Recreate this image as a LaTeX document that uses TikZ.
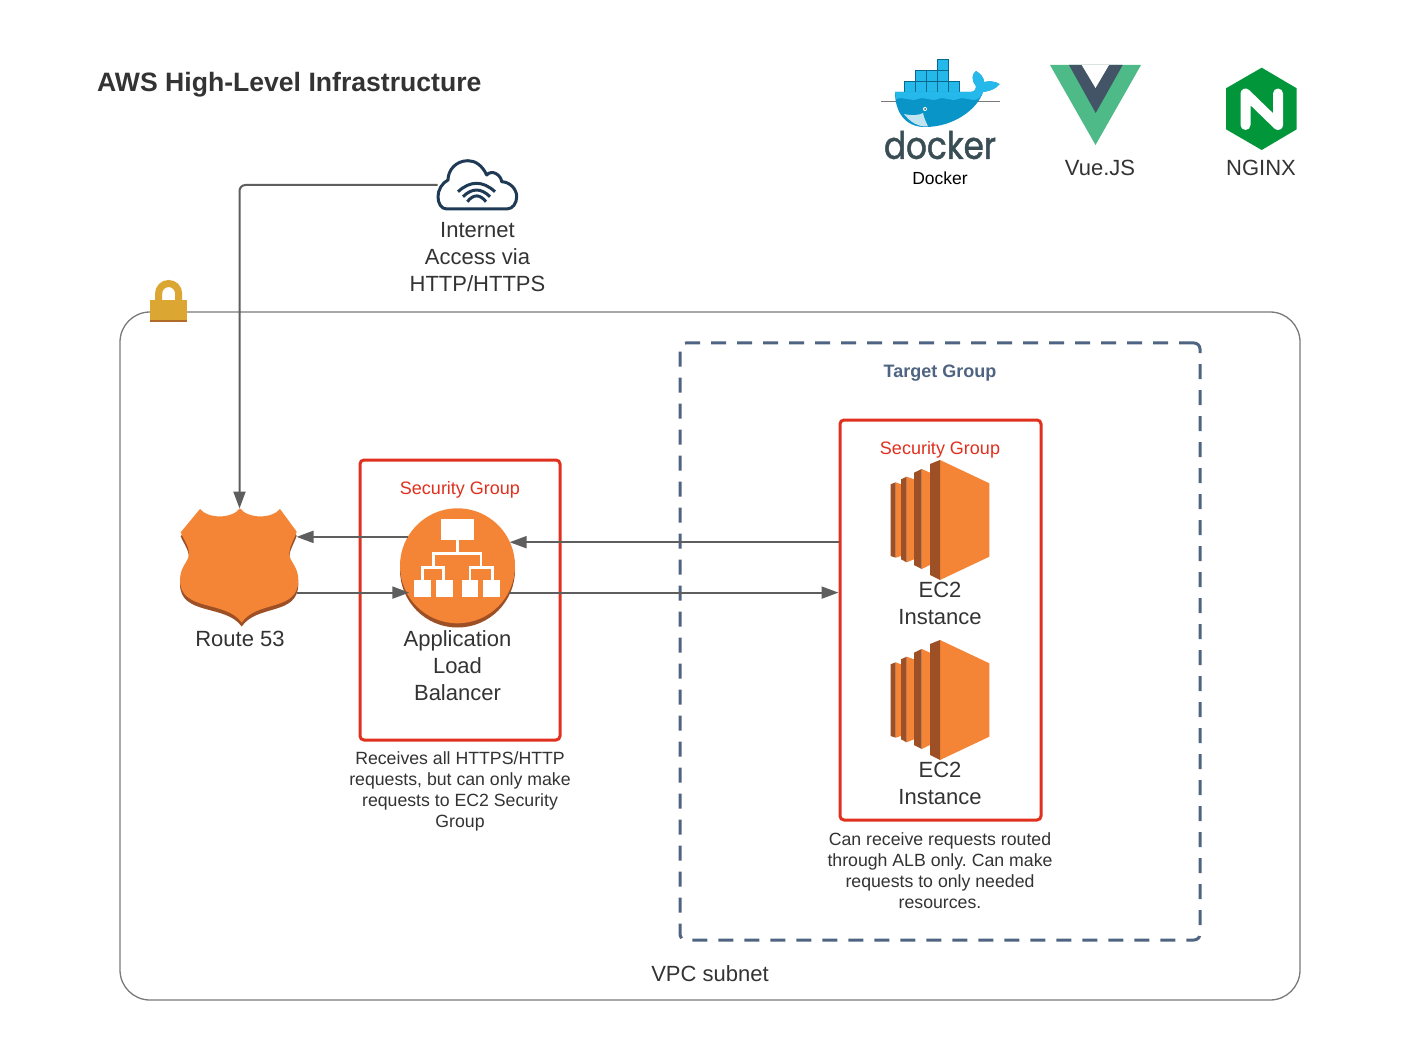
\documentclass[tikz,border=0pt]{standalone}
\usepackage{fontspec}
\setmainfont{Liberation Sans}
\newfontfamily\logofont[FakeStretch=0.86,FakeBold=1.2]{Poppins}
\usetikzlibrary{calc,arrows.meta}
\definecolor{aws-text}{HTML}{333333}
\definecolor{aws-link}{HTML}{5E5E5E}
\definecolor{aws-line}{HTML}{7A7A7A}
\definecolor{aws-red}{HTML}{E0301E}
\definecolor{aws-slate}{HTML}{4F6482}
\definecolor{aws-orange}{HTML}{F58536}
\definecolor{aws-dark}{HTML}{9D5025}
\definecolor{aws-gold}{HTML}{DBA632}
\definecolor{cloud-navy}{HTML}{1F3A55}
\definecolor{docker-top}{HTML}{24B8EB}
\definecolor{docker-low}{HTML}{0A95C9}
\definecolor{docker-text}{HTML}{394D54}
\definecolor{vue-green}{HTML}{4DBA87}
\definecolor{vue-dark}{HTML}{435466}
\definecolor{nginx-green}{HTML}{009639}
\tikzset{
    bigtext/.style={font=\fontsize{22}{27}\selectfont, text=aws-text, align=center},
    smalltext/.style={font=\frenchspacing\fontsize{17.7}{21}\selectfont, text=aws-text, align=center},
    sgtext/.style={font=\fontsize{18}{21}\selectfont, text=aws-red},
    sgbox/.style={draw=aws-red, line width=3pt, rounded corners=4pt, inner sep=0pt},
    link/.style={draw=aws-link, line width=2pt, -{Triangle[length=17pt,width=12pt]}},
    iconspot/.style={inner sep=0pt, outer sep=0pt},
}
\begin{document}
\begin{tikzpicture}[x=1pt, y=-1pt]
    \path[use as bounding box, fill=white] (0,0) rectangle (1421,1040);

    % Title
    \node[font=\bfseries\fontsize{26.6}{32}\selectfont, text=aws-text, anchor=west, inner sep=0pt] (title) at (97,85) {AWS High-Level Infrastructure};

    % VPC subnet and lock
    \node[draw=aws-line, line width=1.3pt, rounded corners=30pt, iconspot, minimum width=1180pt, minimum height=688pt] (vpc) at (710,656) {};
    \node[bigtext] (vpclabel) at (710,974) {VPC subnet};
    \draw[aws-gold, line width=7pt] (158.65,301) -- (158.65,293.5) arc (180:360:10) -- (178.65,301);
    \fill[aws-gold] (150,300) rectangle (187.3,322);
    \fill[aws-dark!70!aws-gold] (150,320.5) rectangle (187.3,322);

    % Target group
    \node[draw=aws-slate, line width=3pt, dash pattern=on 15pt off 11pt, rounded corners=6pt, iconspot, minimum width=520pt, minimum height=597pt] (target) at (940,641.5) {};
    \node[font=\bfseries\fontsize{18}{21}\selectfont, text=aws-slate] (targetlabel) at (940,373) {Target Group};

    % Security groups
    \node[sgbox, minimum width=200pt, minimum height=280pt] (sgalb) at (460,600) {};
    \node[sgbox, minimum width=201pt, minimum height=400pt] (sgec) at (940.5,620) {};
    \node[sgtext] (sgalblabel) at (460,490) {Security Group};
    \node[sgtext] (sgeclabel) at (940,450) {Security Group};

    % Route 53 shield
    \node[iconspot, minimum width=114pt, minimum height=118pt] (route) at (239.5,567.5) {};
    \foreach \dy/\shade in {4/aws-dark, 0/aws-orange} {
        \fill[\shade, shift={(0,\dy)}] (240,508.3) .. controls (232,519) and (208,519) .. (200,509)
            -- (180.7,532.3) .. controls (184,540) and (189,546) .. (189,553.3)
            .. controls (189,562) and (180,566) .. (180,580)
            .. controls (180,612) and (226,600) .. (241.7,622.5)
            .. controls (257,600) and (298.3,612) .. (298.3,580)
            .. controls (298.3,566) and (289.3,562) .. (289.3,553.3)
            .. controls (289.3,546) and (294,540) .. (296.7,531.7)
            -- (280,509) .. controls (272,519) and (248,519) .. (240,508.3) -- cycle;
    }
    \node[bigtext] (routelabel) at (240,638.5) {Route 53};

    % Application load balancer
    \node[circle, iconspot, minimum size=115pt] (alb) at (457.5,566.5) {};
    \fill[aws-dark] (457.5,570) circle (57.5);
    \fill[aws-orange] (457.5,565.8) circle (57.5);
    \fill[white] (440.7,519.3) rectangle (474.3,540);
    \foreach \xa/\xb in {414/431, 435.7/452.7, 461.7/478.3, 483.3/500} {
        \fill[white] (\xa,580) rectangle (\xb,596.7);
    }
    \draw[white, line width=2.5pt] (457.5,540) -- (457.5,553.3);
    \draw[white, line width=2.5pt] (433.3,566) -- (433.3,553.3) -- (481,553.3) -- (481,566);
    \draw[white, line width=2.5pt] (422.3,580) -- (422.3,567.3) -- (443.3,567.3) -- (443.3,580);
    \draw[white, line width=2.5pt] (470,580) -- (470,567.3) -- (492.7,567.3) -- (492.7,580);
    \node[bigtext] (alblabel) at (457.5,666) {Application\\Load\\Balancer};
    \node[smalltext] (albnote) at (460,791) {Receives all HTTPS/HTTP\\requests, but can only make\\requests to EC2 Security\\Group};

    % EC2 instances
    \foreach \dy in {0,180} {
        \begin{scope}[shift={(0,\dy)}]
            \fill[aws-orange] (895.7,482.3) -- (901,484.3) -- (901,556) -- (895.7,557.7) -- cycle;
            \fill[aws-dark] (890.7,484.3) -- (895.7,482.3) -- (895.7,557.7) -- (890.7,556) -- cycle;
            \fill[aws-orange] (906.7,476.7) -- (914,479.3) -- (914,559.3) -- (906.7,562.3) -- cycle;
            \fill[aws-dark] (901,479.3) -- (906.7,476.7) -- (906.7,562.3) -- (901,559.3) -- cycle;
            \fill[aws-orange] (921.7,469) -- (930,472.7) -- (930,565) -- (921.7,569) -- cycle;
            \fill[aws-dark] (914,472.7) -- (921.7,469) -- (921.7,569) -- (914,565) -- cycle;
            \fill[aws-orange] (940,460) -- (989.3,483.3) -- (989.3,556.7) -- (940,580) -- cycle;
            \fill[aws-dark] (930,464) -- (940,460) -- (940,580) -- (930,575) -- cycle;
        \end{scope}
    }
    \node[bigtext] (ecalabel) at (940,603.5) {EC2\\Instance};
    \node[bigtext] (ecblabel) at (940,783.5) {EC2\\Instance};
    \node[smalltext] (ecnote) at (940,870.5) {Can receive requests routed\\through ALB only. Can make\\requests to only needed\\resources.};

    % Internet cloud
    \node[iconspot, minimum width=80pt, minimum height=50pt] (cloud) at (477.5,185) {};
    \draw[link, rounded corners=6pt] (cloud.west) -| (route.north);
    \draw[cloud-navy, fill=white, line width=3pt, line join=round] (446.7,209) -- (506.7,209)
        .. controls (513,209) and (516.7,203) .. (516.7,196.7)
        .. controls (516.7,189) and (510,182) .. (501.7,181.7)
        .. controls (501,175) and (492,169) .. (486.7,175)
        .. controls (482,165) and (475,160.7) .. (468,160.7)
        .. controls (456,160.7) and (448,170) .. (448,180)
        .. controls (442,183) and (438,190) .. (438,196.7)
        .. controls (438,203) and (441,209) .. (446.7,209) -- cycle;
    \foreach \xa/\xb/\ya/\yb in {458/495/191.7/180.5, 463/490/196.7/187.8, 467.3/486/201.7/194} {
        \draw[cloud-navy, line width=3pt] (\xa,\ya) .. controls ({\xa+(\xb-\xa)/3},\yb) and ({\xb-(\xb-\xa)/3},\yb) .. (\xb,\ya);
    }
    \node[bigtext] (cloudlabel) at (477.5,257) {Internet\\Access via\\HTTP/HTTPS};

    % Connectors
    \draw[link] (alb.149) -- (route.east |- alb.149);
    \draw[link, shorten >=-3pt] (route.east |- alb.207.4) -- (alb.207.4);
    \draw[link] (sgec.west |- alb.25.5) -- (alb.25.5);
    \draw[link] (alb.-27.4) -- (sgec.west |- alb.-27.4);

    % Docker logo
    \node[iconspot, minimum width=120pt, minimum height=70pt] (docker) at (940,94) {};
    \foreach \x/\y in {937/59.7, 915/70.7, 926/70.7, 937/70.7, 904/81.7, 915/81.7, 926/81.7, 937/81.7, 948/81.7} {
        \fill[docker-top, draw=docker-low!70!black, line width=1pt] (\x,\y) rectangle ++(11,10.7);
    }
    \draw[aws-line, line width=0.7pt] (881,101) -- (1000,101);
    \fill[docker-low] (895,92) -- (970,92) .. controls (974,92) and (976,90) .. (976,86)
        .. controls (971,80) and (972,74) .. (976,71) .. controls (981,74) and (984,78) .. (984,82)
        .. controls (989,81) and (995,81) .. (999.5,84) .. controls (996,89) and (990,91) .. (983,92)
        .. controls (978,108) and (955,127) .. (925,127) .. controls (905,127) and (895,112) .. (895,92) -- cycle;
    \fill[docker-top] (895,92) -- (970,92) .. controls (974,92) and (976,90) .. (976,86)
        .. controls (971,80) and (972,74) .. (976,71) .. controls (981,74) and (984,78) .. (984,82)
        .. controls (989,81) and (995,81) .. (999.5,84) .. controls (996,89) and (990,91) .. (983,92)
        .. controls (982,95) and (980,97) .. (978,99)
        .. controls (970,102) and (965,96) .. (958,99) .. controls (950,102) and (945,96) .. (938,99)
        .. controls (930,102) and (925,96) .. (918,99) .. controls (910,102) and (905,96) .. (896,99) -- cycle;
    \fill[white!75!docker-low] (904,114) .. controls (912,116) and (920,115) .. (923,113) .. controls (924,118) and (926,122) .. (928,126.5) .. controls (918,127) and (910,122) .. (904,114) -- cycle;
    \fill[white] (925,109) circle (2);
    \fill[docker-text] (925,109) circle (1);
    \node[font=\logofont\fontsize{38}{38}\selectfont, text=docker-text, inner sep=0pt] (dockerword) at (940,145) {docker};
    \node[font=\fontsize{17.5}{21}\selectfont, text=black, inner sep=0pt] (dockerlabel) at (940,178) {Docker};

    % Vue logo
    \node[iconspot, minimum width=91pt, minimum height=80pt] (vue) at (1095.5,105) {};
    \fill[vue-green] (1050,65) -- (1141,65) -- (1095.5,145) -- cycle;
    \fill[vue-dark] (1069,65) -- (1122.7,65) -- (1095.7,113) -- cycle;
    \fill[white] (1081.7,65) -- (1109,65) -- (1095.5,88) -- cycle;
    \node[bigtext] (vuelabel) at (1100,168) {Vue.JS};

    % NGINX logo
    \node[iconspot, minimum width=71pt, minimum height=82pt] (nginx) at (1261.5,109) {};
    \fill[nginx-green] (1261.7,67.7) -- (1296.7,88.3) -- (1296.7,129.3) -- (1261.7,150) -- (1226,129.3) -- (1226,88.3) -- cycle;
    \draw[white, line width=10pt, line cap=round, line join=round] (1245.5,125) -- (1245.5,93.5) -- (1278,125) -- (1278,93.5);
    \node[bigtext] (nginxlabel) at (1261,168) {NGINX};
\end{tikzpicture}
\end{document}
